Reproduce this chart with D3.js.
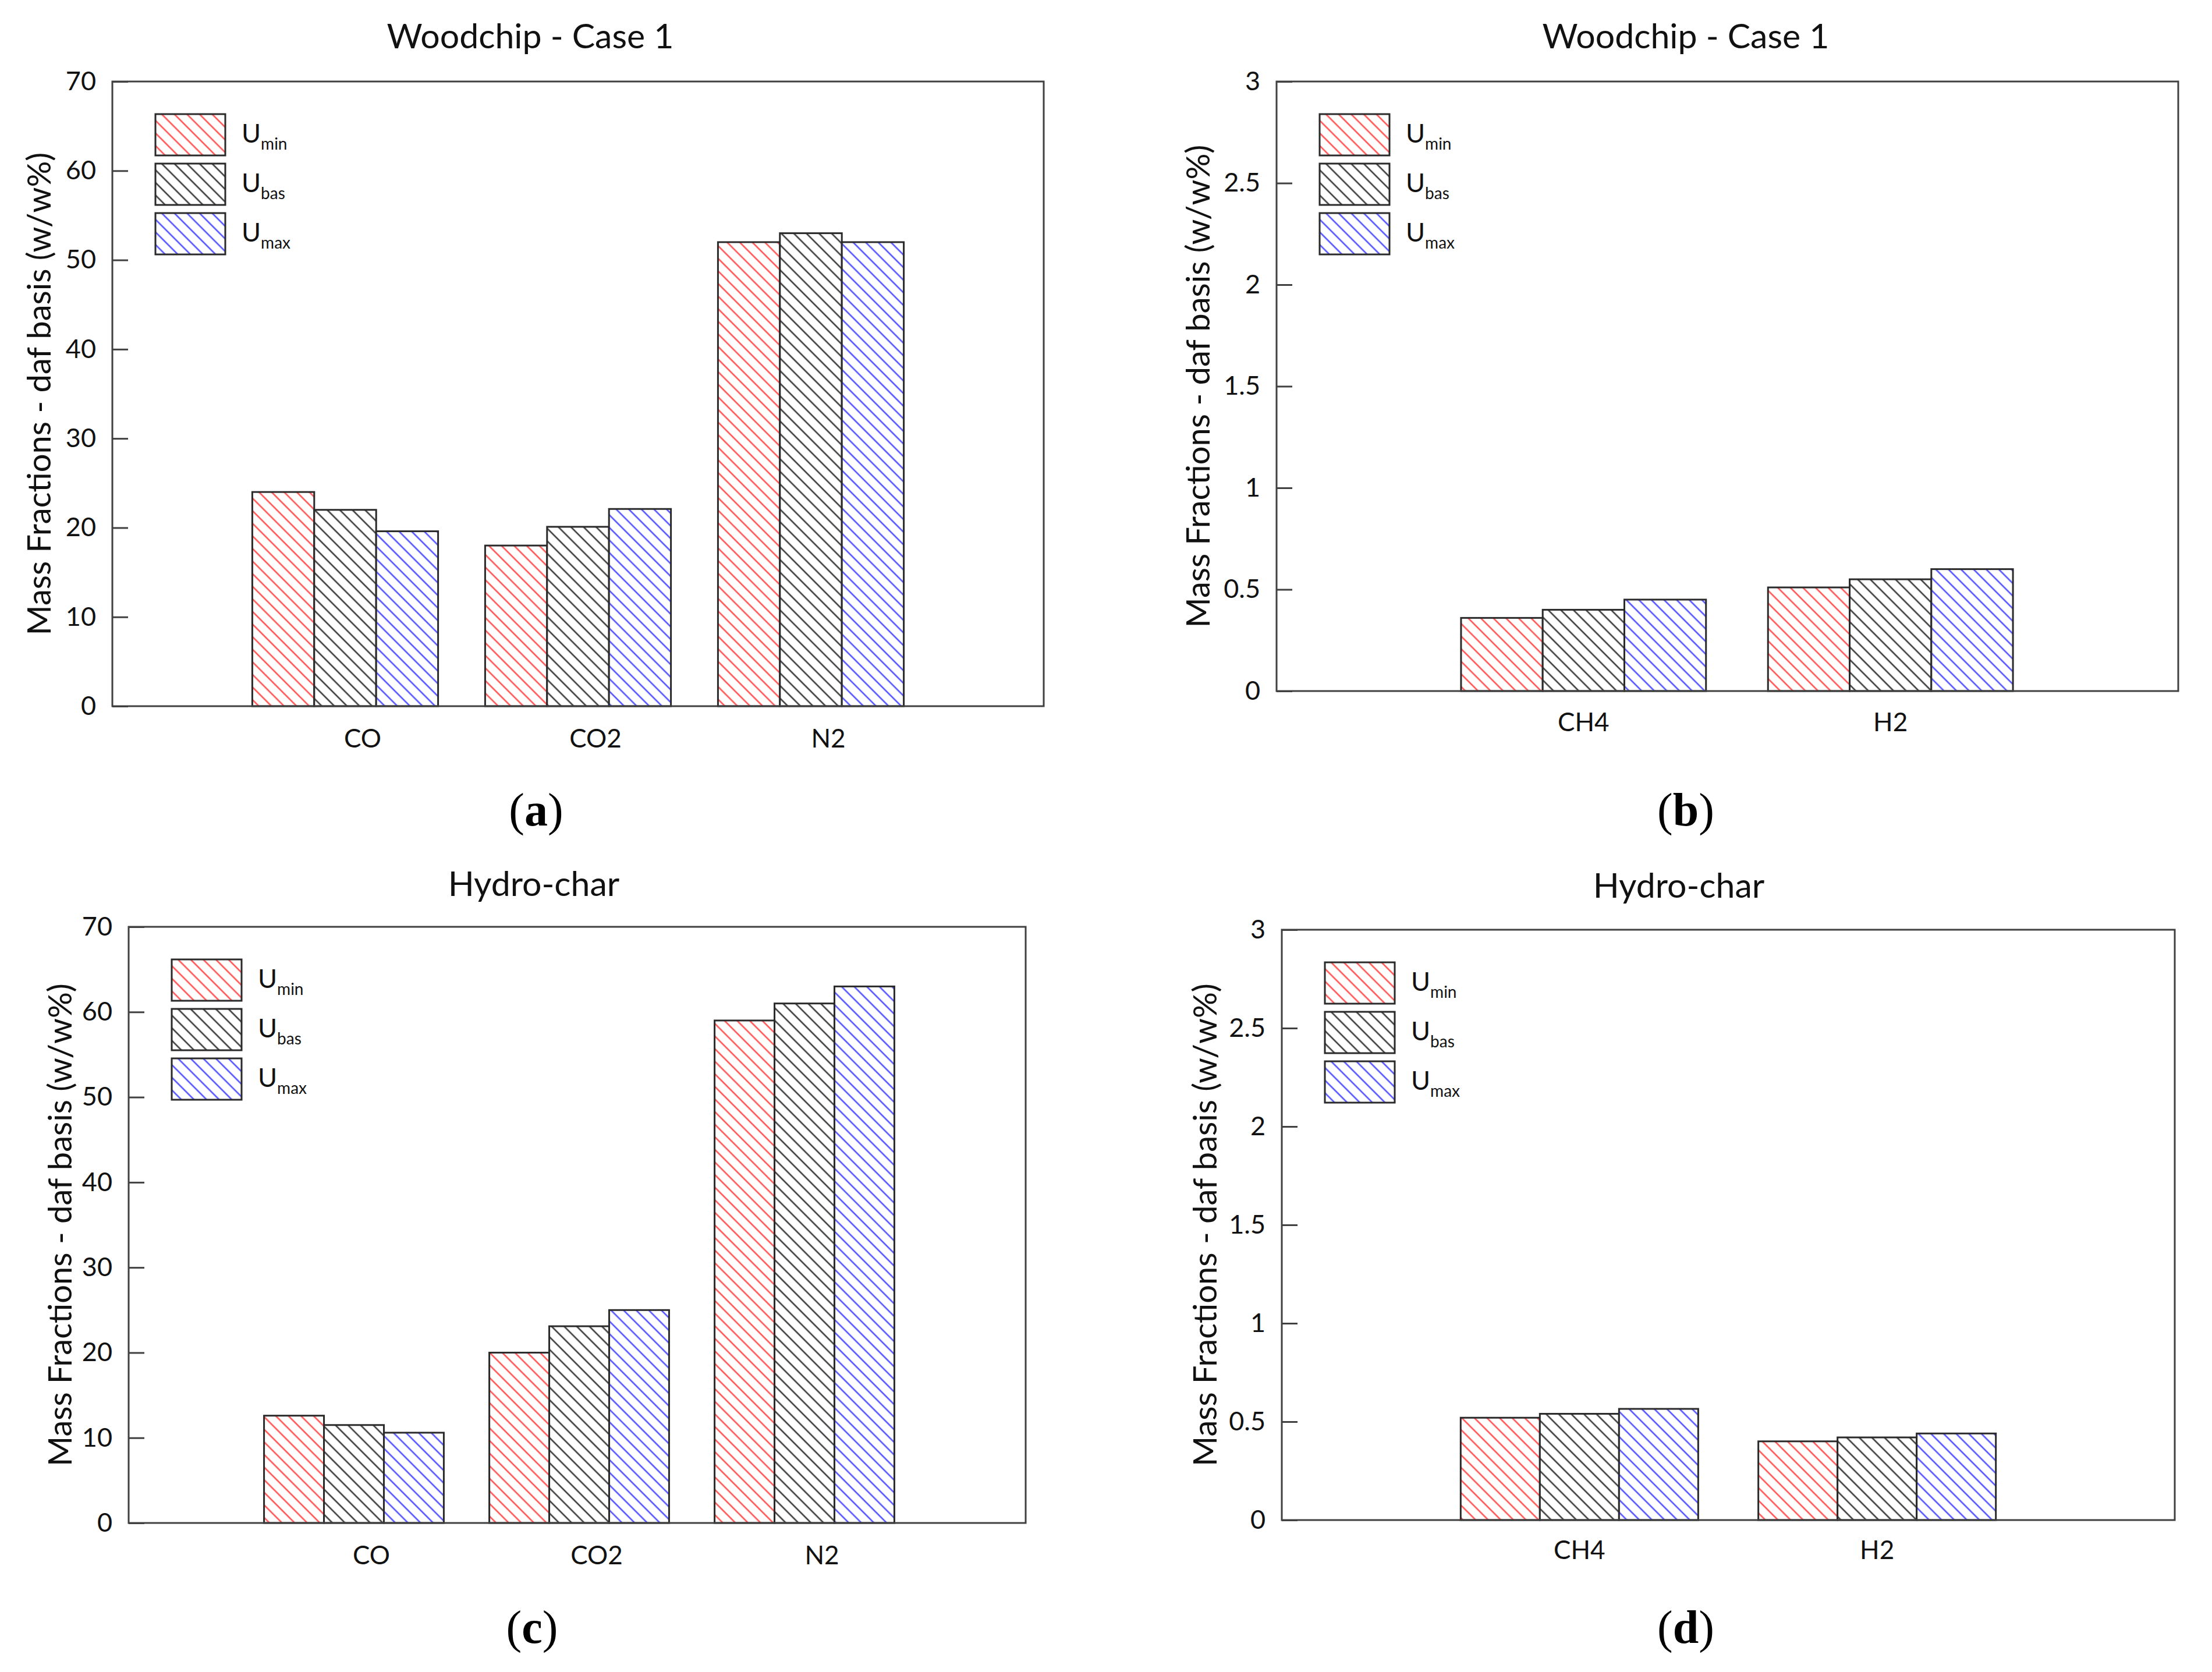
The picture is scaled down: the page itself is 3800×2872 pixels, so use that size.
<!DOCTYPE html>
<html>
<head>
<meta charset="utf-8">
<script src="https://cdn.jsdelivr.net/npm/d3@7"></script>
<style>
  body { margin: 0; background: #fff; }
  svg { display: block; }
</style>
</head>
<body>
<script>
// data (w/w%)
const gasesMajor = ["CO", "CO2", "N2"];
const gasesMinor = ["CH4", "H2"];
const seriesLabels = ["min", "bas", "max"];

const woodMajorUmin = [24.0, 18.0, 52.0];
const woodMajorUbas = [22.0, 20.1, 53.0];
const woodMajorUmax = [19.6, 22.1, 52.0];

const woodMinorUmin = [0.36, 0.51];
const woodMinorUbas = [0.40, 0.55];
const woodMinorUmax = [0.45, 0.60];

const hydroMajorUmin = [12.6, 20.0, 59.0];
const hydroMajorUbas = [11.5, 23.1, 61.0];
const hydroMajorUmax = [10.6, 25.0, 63.0];

const hydroMinorUmin = [0.52, 0.40];
const hydroMinorUbas = [0.54, 0.42];
const hydroMinorUmax = [0.565, 0.44];

const majorTicks = [0, 10, 20, 30, 40, 50, 60, 70];
const minorTicks = [0, 0.5, 1, 1.5, 2, 2.5, 3];

const yTitle = "Mass Fractions - daf basis (w/w%)";

// layout
const W = 3800, H = 2872;
const font = "Lato, 'Open Sans', sans-serif";
const hatchColors = ["#ff5252", "#3c3c3c", "#5252ff"];
const barUnit = 0.266; // bar width in x-domain units

// xEnd = end of the x scale range, R = right edge of the frame
const panels = [
  { title: "Woodchip - Case 1", tag: "a", cats: gasesMajor,
    series: [woodMajorUmin, woodMajorUbas, woodMajorUmax], yMax: 70, ticks: majorTicks,
    L: 193, R: 1793, xEnd: 1793, T: 140, B: 1213, titleX: 911, titleY: 62, ylabX: 67,
    catY: 1284, catShift: 30, tagX: 921, tagY: 1418 },
  { title: "Woodchip - Case 1", tag: "b", cats: gasesMinor,
    series: [woodMinorUmin, woodMinorUbas, woodMinorUmax], yMax: 3, ticks: minorTicks,
    L: 2193, R: 3742, xEnd: 3775, T: 140, B: 1187, titleX: 2896, titleY: 62, ylabX: 2058,
    catY: 1256, catShift: 0, tagX: 2896, tagY: 1418 },
  { title: "Hydro-char", tag: "c", cats: gasesMajor,
    series: [hydroMajorUmin, hydroMajorUbas, hydroMajorUmax], yMax: 70, ticks: majorTicks,
    L: 221, R: 1762, xEnd: 1769, T: 1592, B: 2616, titleX: 917, titleY: 1518, ylabX: 103,
    catY: 2687, catShift: 30, tagX: 914, tagY: 2822 },
  { title: "Hydro-char", tag: "d", cats: gasesMinor,
    series: [hydroMinorUmin, hydroMinorUbas, hydroMinorUmax], yMax: 3, ticks: minorTicks,
    L: 2202, R: 3736, xEnd: 3736, T: 1597, B: 2611, titleX: 2884, titleY: 1521, ylabX: 2070,
    catY: 2678, catShift: 0, tagX: 2896, tagY: 2822 }
];

const svg = d3.select("body").append("svg")
  .attr("width", W)
  .attr("height", H)
  .style("background", "#fff");

svg.append("rect").attr("width", W).attr("height", H).attr("fill", "#fff");

// diagonal hatch patterns, one per series
const defs = svg.append("defs");
hatchColors.forEach((c, i) => {
  const p = defs.append("pattern")
    .attr("id", "hatch" + i)
    .attr("patternUnits", "userSpaceOnUse")
    .attr("width", 15.3)
    .attr("height", 15.3)
    .attr("patternTransform", "rotate(-45)");
  p.append("rect").attr("width", 15.3).attr("height", 15.3).attr("fill", "#fff");
  p.append("line")
    .attr("x1", 7.6).attr("x2", 7.6)
    .attr("y1", -1).attr("y2", 16.3)
    .attr("stroke", c)
    .attr("stroke-width", 2.6);
});

panels.forEach(pn => {
  const g = svg.append("g");

  const x = d3.scaleLinear().domain([0, pn.cats.length + 1]).range([pn.L, pn.xEnd]);
  const y = d3.scaleLinear().domain([0, pn.yMax]).range([pn.B, pn.T]);

  // title
  g.append("text")
    .attr("x", pn.titleX).attr("y", pn.titleY).attr("dy", "0.36em")
    .attr("text-anchor", "middle")
    .style("font-family", font).style("font-size", "59px").attr("fill", "#111")
    .text(pn.title);

  // bars
  const bars = [];
  pn.series.forEach((vals, j) => {
    vals.forEach((v, i) => bars.push({ i, j, v }));
  });
  g.append("g").selectAll("rect")
    .data(bars)
    .join("rect")
    .attr("x", d => x(d.i + 1 + (d.j - 1.5) * barUnit))
    .attr("width", d => x(d.i + 1 + (d.j - 0.5) * barUnit) - x(d.i + 1 + (d.j - 1.5) * barUnit))
    .attr("y", d => y(d.v))
    .attr("height", d => y(0) - y(d.v))
    .attr("fill", d => `url(#hatch${d.j})`)
    .attr("stroke", "#2a2a2a")
    .attr("stroke-width", 3);

  // frame
  g.append("rect")
    .attr("x", pn.L).attr("y", pn.T)
    .attr("width", pn.R - pn.L).attr("height", pn.B - pn.T)
    .attr("fill", "none")
    .attr("stroke", "#404040")
    .attr("stroke-width", 3);

  // y axis, ticks pointing inwards
  const yAxis = d3.axisLeft(y)
    .tickValues(pn.ticks)
    .tickFormat(d3.format("~g"))
    .tickSizeInner(-27)
    .tickSizeOuter(0)
    .tickPadding(28);
  const ag = g.append("g").attr("transform", `translate(${pn.L},0)`).call(yAxis);
  ag.select(".domain").remove();
  ag.selectAll(".tick line").attr("stroke", "#404040").attr("stroke-width", 3);
  ag.selectAll(".tick text")
    .style("font-family", font).style("font-size", "45px").attr("fill", "#111");

  // y title
  g.append("text")
    .attr("transform", `translate(${pn.ylabX},${(pn.T + pn.B) / 2}) rotate(-90)`)
    .attr("dy", "0.36em")
    .attr("text-anchor", "middle")
    .style("font-family", font).style("font-size", "56px").attr("fill", "#111")
    .text(yTitle);

  // category labels
  g.append("g").selectAll("text")
    .data(pn.cats)
    .join("text")
    .attr("x", (d, i) => x(i + 1) + pn.catShift)
    .attr("y", pn.catY)
    .attr("text-anchor", "middle")
    .style("font-family", font).style("font-size", "44px").attr("fill", "#111")
    .text(d => d);

  // legend
  const lg = g.append("g").attr("transform", `translate(${pn.L + 74},${pn.T + 56})`);
  const items = lg.selectAll("g").data(seriesLabels).join("g")
    .attr("transform", (d, i) => `translate(0,${i * 85})`);
  items.append("rect")
    .attr("width", 120).attr("height", 71)
    .attr("fill", (d, i) => `url(#hatch${i})`)
    .attr("stroke", "#2a2a2a")
    .attr("stroke-width", 3);
  const lt = items.append("text")
    .attr("x", 148).attr("y", 49)
    .style("font-family", font).attr("fill", "#111");
  lt.append("tspan").style("font-size", "45px").text("U");
  lt.append("tspan").attr("dy", 12).style("font-size", "28px").text(d => d);

  // panel tag
  const tg = g.append("text")
    .attr("x", pn.tagX).attr("y", pn.tagY)
    .attr("text-anchor", "middle")
    .style("font-family", "'Liberation Serif', 'DejaVu Serif', serif")
    .style("font-size", "80px").attr("fill", "#000");
  tg.append("tspan").text("(");
  tg.append("tspan").style("font-weight", "bold").text(pn.tag);
  tg.append("tspan").text(")");
});
</script>
</body>
</html>
